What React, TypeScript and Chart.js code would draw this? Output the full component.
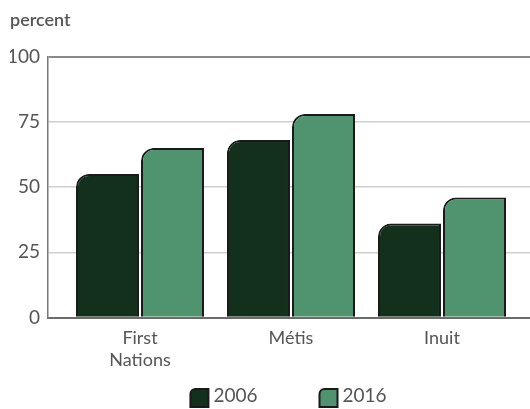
import React, { useEffect, useRef } from 'react';
import { Chart, registerables } from 'chart.js';

Chart.register(...registerables);

const categories = ['First Nations', 'Métis', 'Inuit'];
const categoryLines = [['First', 'Nations'], ['Métis'], ['Inuit']];
const seriesLabels = ['2006', '2016'];
const values2006 = [55, 68, 36];
const values2016 = [65, 78, 46];
const yTickValues = [0, 25, 50, 75, 100];
const unitLabel = 'percent';

const FONT = 'Lato, "Open Sans", sans-serif';
const TEXT = '#555555';
const FILLS = ['#13301d', '#4f946e'];
const EDGE = '#1a1a1a';

const legendPlugin = {
  id: 'bottomLegend',
  afterDraw(chart: any) {
    const { ctx, chartArea } = chart;
    const box = 20;
    const gap = 6;
    const itemGap = 59;
    ctx.save();
    ctx.font = `19px ${FONT}`;
    const items = chart.data.datasets.map((ds: any) => ({
      text: ds.label,
      fill: ds.backgroundColor,
      w: box + gap + ctx.measureText(ds.label).width,
    }));
    const total = items.reduce((s: number, it: any) => s + it.w, 0) + itemGap * (items.length - 1);
    let x = (chartArea.left + chartArea.right) / 2 - total / 2;
    const y = chart.height - 21;
    items.forEach((it: any) => {
      ctx.beginPath();
      ctx.roundRect(x + 1, y + 1, box - 2, box - 2, [5, 0, 0, 0]);
      ctx.fillStyle = it.fill;
      ctx.fill();
      ctx.lineWidth = 2;
      ctx.strokeStyle = EDGE;
      ctx.stroke();
      ctx.fillStyle = TEXT;
      ctx.textBaseline = 'middle';
      ctx.textAlign = 'left';
      ctx.fillText(it.text, x + box + gap - 2, y + box / 2 - 2);
      x += it.w + itemGap;
    });
    ctx.restore();
  },
};

export default function App() {
  const ref = useRef<HTMLCanvasElement | null>(null);

  useEffect(() => {
    if (!ref.current) return;
    const series = [values2006, values2016];
    const chart = new Chart(ref.current, {
      type: 'bar',
      data: {
        datasets: series.map((vals, si) => ({
          label: seriesLabels[si],
          data: vals.map((v, i) => ({ x: i, y: v })),
          backgroundColor: FILLS[si],
          borderColor: EDGE,
          borderWidth: 2,
          borderSkipped: 'bottom',
          borderRadius: { topLeft: 13, topRight: 0, bottomLeft: 0, bottomRight: 0 },
          categoryPercentage: 0.861,
          barPercentage: 0.969,
        })),
      },
      options: {
        animation: false,
        responsive: false,
        layout: { padding: { left: 10, right: 0, top: 0, bottom: 28.5 } },
        plugins: {
          legend: { display: false },
          tooltip: { enabled: false },
          title: {
            display: true,
            text: unitLabel,
            align: 'start',
            color: TEXT,
            font: { family: FONT, size: 18, weight: '600' },
            padding: { top: 9, bottom: 26 },
          },
        },
        scales: {
          x: {
            type: 'linear',
            offset: false,
            bounds: 'data',
            min: -0.6093,
            max: 2.5828,
            afterBuildTicks: (axis: any) => {
              axis.ticks = categories.map((_, i) => ({ value: i }));
            },
            grid: { display: false, drawTicks: false, offset: false },
            border: { display: true, color: '#6b6b6b', width: 2 },
            ticks: {
              autoSkip: false,
              maxRotation: 0,
              padding: 9,
              color: TEXT,
              font: { family: FONT, size: 18, lineHeight: 1.25 },
              callback: (value: any) => categoryLines[Math.round(Number(value))] ?? '',
            },
          },
          y: {
            min: 0,
            max: 100,
            afterBuildTicks: (axis: any) => {
              axis.ticks = yTickValues.map((v) => ({ value: v }));
            },
            afterFit: (axis: any) => {
              axis.width = 38;
            },
            grid: {
              drawTicks: false,
              color: (c: any) => (c.tick && c.tick.value === 100 ? '#8a8a8a' : '#cfcfcf'),
              lineWidth: (c: any) => (c.tick && c.tick.value === 100 ? 2 : 1.5),
            },
            border: { display: true, color: '#777777', width: 1.5 },
            ticks: {
              padding: 8,
              color: TEXT,
              font: { family: FONT, size: 19 },
            },
          },
        },
      },
      plugins: [legendPlugin],
    } as any);
    return () => chart.destroy();
  }, []);

  return (
    <div style={{ position: 'fixed', left: 0, top: 0, width: 530, height: 409, background: '#fff' }}>
      <canvas ref={ref} width={530} height={409} style={{ display: 'block' }} />
    </div>
  );
}
